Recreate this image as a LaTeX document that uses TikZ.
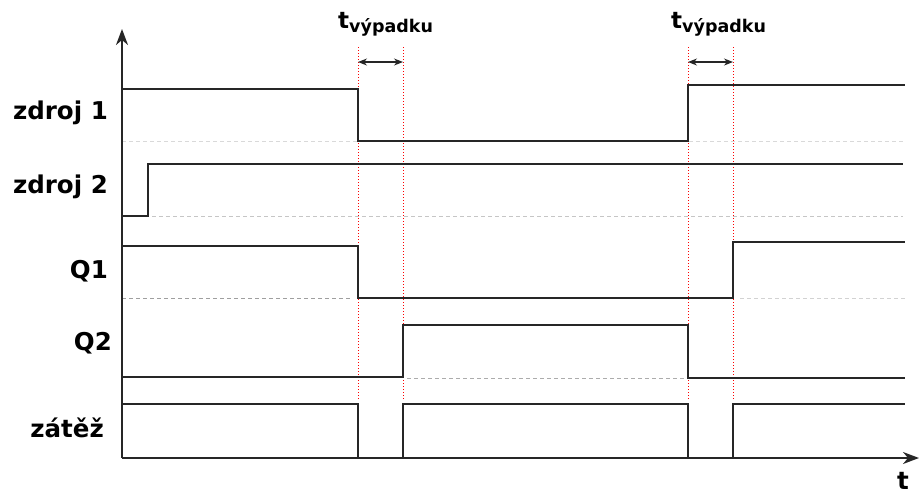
\documentclass[tikz,border=0pt]{standalone}
\usepackage{fontspec}
\setmainfont{DejaVu Sans}
\usetikzlibrary{arrows.meta}

\tikzset{
  signal/.style={line width=2pt, black!85},
  axisline/.style={line width=1.8pt, black!85, -{Stealth[length=16pt,width=12pt,inset=5pt]}},
  dimarrow/.style={line width=1.2pt, black!85, {Stealth[length=9pt,width=7pt]}-{Stealth[length=9pt,width=7pt]}},
  baseline/.style={dashed, dash pattern=on 4pt off 3pt, line width=1pt},
  cutline/.style={red, dotted, line width=1pt},
  lbl/.style={font=\bfseries\fontsize{24.5}{28}\selectfont, anchor=base east, inner sep=0pt},
  tlbl/.style={anchor=base west, inner sep=0pt}
}
\newcommand{\tvyp}{{\bfseries\fontsize{23}{27}\selectfont t\raisebox{-4pt}{\fontsize{17.5}{20}\selectfont výpadku}}}

\begin{document}
\begin{tikzpicture}[x=1pt,y=-1pt]
  %%%%% START %%%%%
  \useasboundingbox (0,0) rectangle (919,491);

  % osy
  \coordinate (o) at (122,458);
  \coordinate (ytop) at (122,29);
  \coordinate (xend) at (919,458);

  % popisky
  \node[lbl] (z1) at (108,119) {zdroj 1};
  \node[lbl] (z2) at (108,193) {zdroj 2};
  \node[lbl] (q1) at (108,278) {Q1};
  \node[lbl] (q2) at (112,350) {Q2};
  \node[lbl] (zt) at (104,437) {zátěž};
  \node[font=\bfseries\fontsize{24.5}{28}\selectfont, anchor=base, inner sep=0pt] (t) at (903,489) {t};

  % výpadky
  \coordinate (a1) at (358,47); \coordinate (a2) at (358,400);
  \coordinate (b1) at (403,47); \coordinate (b2) at (403,400);
  \coordinate (c1) at (688,47); \coordinate (c2) at (688,400);
  \coordinate (d1) at (733,47); \coordinate (d2) at (733,400);
  \draw[cutline] (a1) -- (a2);
  \draw[cutline] (b1) -- (b2);
  \draw[cutline] (c1) -- (c2);
  \draw[cutline] (d1) -- (d2);
  \draw[dimarrow] (358,62) -- (403,62);
  \draw[dimarrow] (688,62) -- (733,62);
  \node[tlbl] (tv1) at (338,28) {\tvyp};
  \node[tlbl] (tv2) at (671,28) {\tvyp};

  % nulove urovne
  \draw[baseline, gray!30] (122,141) -- (905,141);
  \draw[baseline, gray!45] (152,216) -- (903,216);
  \draw[baseline, gray!75] (122,298) -- (352,298);
  \draw[baseline, gray!35] (740,298) -- (905,298);
  \draw[baseline, gray!65] (407,378) -- (688,378);

  % zdroj 1
  \draw[signal] (122,89) -- (358,89) -- (358,141) -- (688,141) -- (688,85) -- (905,85);
  % zdroj 2
  \draw[signal] (122,216) -- (148,216) -- (148,164) -- (903,164);
  % Q1
  \draw[signal] (122,246) -- (358,246) -- (358,298) -- (733,298) -- (733,242) -- (905,242);
  % Q2
  \draw[signal] (122,377) -- (403,377) -- (403,325) -- (688,325) -- (688,378) -- (905,378);
  % zatez
  \draw[signal] (122,404) -- (358,404) -- (358,458);
  \draw[signal] (403,458) -- (403,404) -- (688,404) -- (688,458);
  \draw[signal] (733,458) -- (733,404) -- (905,404);

  \draw[axisline] (o) -- (ytop);
  \draw[axisline] (o) -- (xend);
  %%%%% END %%%%%
\end{tikzpicture}
\end{document}
